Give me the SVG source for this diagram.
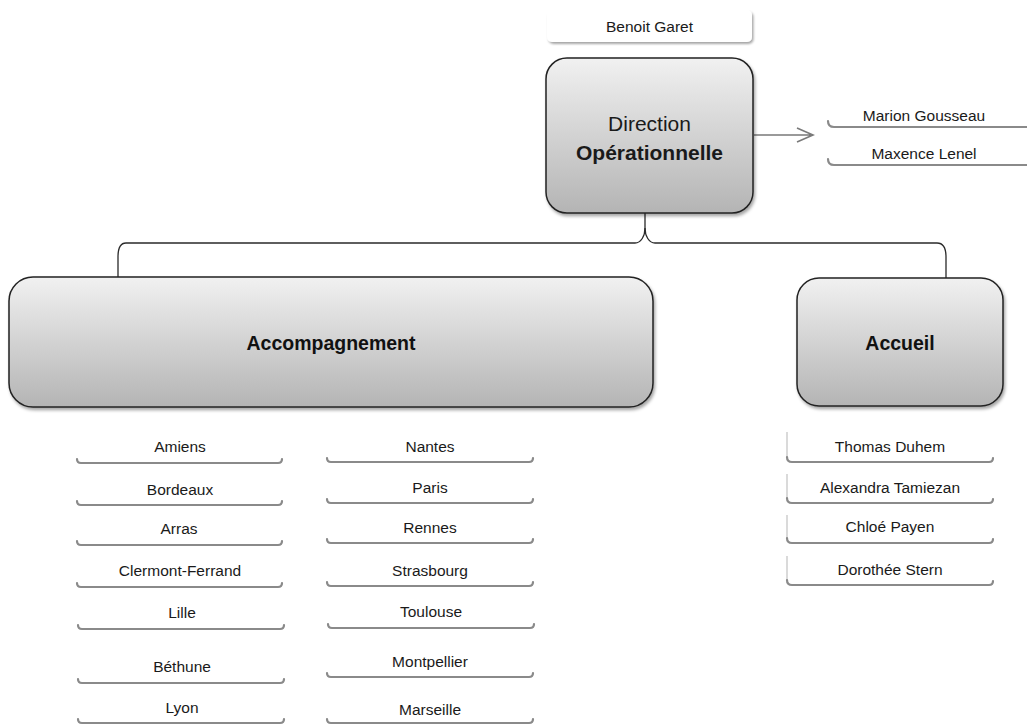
<svg xmlns="http://www.w3.org/2000/svg" width="1027" height="725" viewBox="0 0 1027 725">
<style>
  .lbl { font-family: "Liberation Sans", Arial, sans-serif; font-size: 15.5px; fill: #1a1a1a; text-anchor: middle; }
  .head { font-family: "Liberation Sans", Arial, sans-serif; font-size: 19.5px; font-weight: bold; fill: #111; text-anchor: middle; }
  .dir { font-family: "Liberation Sans", Arial, sans-serif; font-size: 21px; fill: #1a1a1a; text-anchor: middle; }
  .box { fill: url(#g); stroke: #222; stroke-width: 1.5; filter: url(#sh); }
  .ul { fill: none; stroke: #8a8a8a; stroke-width: 2.2; stroke-linecap: round; }
  .side { fill: none; stroke: #b5b5b5; stroke-width: 1; }
  .conn { fill: none; stroke: #2a2a2a; stroke-width: 1.3; }
  .arrow { fill: none; stroke: #7a7a7a; stroke-width: 1.6; }
</style>
<defs>
  <linearGradient id="g" x1="0" y1="0" x2="0" y2="1">
    <stop offset="0" stop-color="#f1f1f1"/>
    <stop offset="1" stop-color="#b4b4b4"/>
  </linearGradient>
  <filter id="sh" x="-10%" y="-10%" width="120%" height="130%">
    <feDropShadow dx="1.5" dy="2.5" stdDeviation="1.5" flood-color="#000" flood-opacity="0.35"/>
  </filter>
  <filter id="sh2" x="-10%" y="-30%" width="120%" height="170%">
    <feDropShadow dx="1.5" dy="2" stdDeviation="1.2" flood-color="#000" flood-opacity="0.35"/>
  </filter>
</defs>
<rect width="1027" height="725" fill="#ffffff"/>

<g id="connectors">
  <path class="conn" d="M645 213 L645 228 C645 236 641 243 635 243 L126 243 C120 243 118 248 118 257 L118 278"/>
  <path class="conn" d="M645 228 C645 236 649 243 655 243 L937 243 C943 243 946 248 946 257 L946 278"/>
  <path class="arrow" d="M754 135 L812 135 M797 128 L813 135 L797 142"/>
</g>

<g id="benoit-garet">
  <rect x="547" y="10" width="205" height="32" rx="5" fill="#fff" filter="url(#sh2)"/>
  <text class="lbl" x="649.5" y="32">Benoit Garet</text>
</g>

<g id="direction">
  <rect class="box" x="546" y="58" width="207" height="155" rx="21"/>
  <text class="dir" x="649.5" y="131">Direction</text>
  <text class="dir" x="649.5" y="160" font-weight="bold">Opérationnelle</text>
</g>

<g id="marion-gousseau">
  <path class="ul" d="M828 121 Q828 127 834 127 L1030 127"/>
  <text class="lbl" x="924" y="121">Marion Gousseau</text>
</g>
<g id="maxence-lenel">
  <path class="ul" d="M828 159 Q828 165 834 165 L1030 165"/>
  <text class="lbl" x="924" y="159">Maxence Lenel</text>
</g>

<g id="accompagnement">
  <rect class="box" x="9" y="277" width="644" height="130" rx="24"/>
  <text class="head" x="331" y="350">Accompagnement</text>
</g>

<g id="accueil">
  <rect class="box" x="797" y="278" width="206" height="128" rx="22"/>
  <text class="head" x="900" y="350">Accueil</text>
</g>

<g id="amiens"><path class="ul" d="M77 459 Q77 463 81 463 L278 463 Q282 463 282 459"/><text class="lbl" x="180" y="452">Amiens</text></g>
<g id="bordeaux"><path class="ul" d="M77 501 Q77 505 81 505 L278 505 Q282 505 282 501"/><text class="lbl" x="180" y="495">Bordeaux</text></g>
<g id="arras"><path class="ul" d="M77 541 Q77 545 81 545 L278 545 Q282 545 282 541"/><text class="lbl" x="179" y="534">Arras</text></g>
<g id="clermont-ferrand"><path class="ul" d="M77 583 Q77 587 81 587 L278 587 Q282 587 282 583"/><text class="lbl" x="180" y="576">Clermont-Ferrand</text></g>
<g id="lille"><path class="ul" d="M78 625 Q78 629 82 629 L280 629 Q284 629 284 625"/><text class="lbl" x="182" y="618">Lille</text></g>
<g id="bethune"><path class="ul" d="M78 679 Q78 683 82 683 L280 683 Q284 683 284 679"/><text class="lbl" x="182" y="672">Béthune</text></g>
<g id="lyon"><path class="ul" d="M78 719 Q78 723 82 723 L280 723 Q284 723 284 719"/><text class="lbl" x="182" y="713">Lyon</text></g>

<g id="nantes"><path class="ul" d="M327 458 Q327 462 331 462 L529 462 Q533 462 533 458"/><text class="lbl" x="430" y="452">Nantes</text></g>
<g id="paris"><path class="ul" d="M327 499 Q327 503 331 503 L529 503 Q533 503 533 499"/><text class="lbl" x="430" y="493">Paris</text></g>
<g id="rennes"><path class="ul" d="M327 539 Q327 543 331 543 L529 543 Q533 543 533 539"/><text class="lbl" x="430" y="533">Rennes</text></g>
<g id="strasbourg"><path class="ul" d="M327 582 Q327 586 331 586 L529 586 Q533 586 533 582"/><text class="lbl" x="430" y="576">Strasbourg</text></g>
<g id="toulouse"><path class="ul" d="M328 624 Q328 628 332 628 L530 628 Q534 628 534 624"/><text class="lbl" x="431" y="617">Toulouse</text></g>
<g id="montpellier"><path class="ul" d="M327 673 Q327 677 331 677 L529 677 Q533 677 533 673"/><text class="lbl" x="430" y="667">Montpellier</text></g>
<g id="marseille"><path class="ul" d="M327 719 Q327 723 331 723 L529 723 Q533 723 533 719"/><text class="lbl" x="430" y="715">Marseille</text></g>

<g id="thomas-duhem"><path class="side" d="M787 432 L787 457"/><path class="ul" d="M787 457 Q787 462 792 462 L989 462 Q993 462 993 458"/><text class="lbl" x="890" y="452">Thomas Duhem</text></g>
<g id="alexandra-tamiezan"><path class="side" d="M787 474 L787 498"/><path class="ul" d="M787 498 Q787 503 792 503 L989 503 Q993 503 993 499"/><text class="lbl" x="890" y="493">Alexandra Tamiezan</text></g>
<g id="chloe-payen"><path class="side" d="M787 515 L787 538"/><path class="ul" d="M787 538 Q787 543 792 543 L989 543 Q993 543 993 539"/><text class="lbl" x="890" y="532">Chloé Payen</text></g>
<g id="dorothee-stern"><path class="side" d="M787 556 L787 580"/><path class="ul" d="M787 580 Q787 585 792 585 L989 585 Q993 585 993 581"/><text class="lbl" x="890" y="575">Dorothée Stern</text></g>
</svg>
